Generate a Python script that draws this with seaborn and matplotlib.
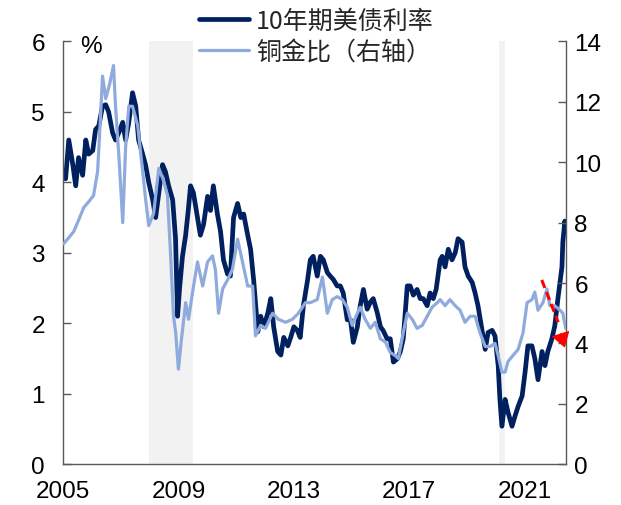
import matplotlib
matplotlib.use("Agg")
import matplotlib.pyplot as plt
import seaborn as sns
import pandas as pd

# 10-year US Treasury yield (%), decimal-year sampling
yield_years = [2005.00, 2005.09, 2005.20, 2005.34, 2005.44, 2005.54, 2005.68, 2005.79, 2005.89, 2006.03,
               2006.13, 2006.24, 2006.37, 2006.48, 2006.58, 2006.72, 2006.82, 2006.93, 2007.07, 2007.17,
               2007.28, 2007.41, 2007.52, 2007.62, 2007.76, 2007.86, 2007.97, 2008.11, 2008.21, 2008.32,
               2008.45, 2008.55, 2008.66, 2008.80, 2008.90, 2008.97, 2009.04, 2009.14, 2009.25, 2009.34,
               2009.42, 2009.52, 2009.66, 2009.76, 2009.87, 2010.01, 2010.11, 2010.21, 2010.35, 2010.46,
               2010.56, 2010.70, 2010.80, 2010.91, 2011.05, 2011.16, 2011.26, 2011.40, 2011.50, 2011.61,
               2011.75, 2011.85, 2011.96, 2012.10, 2012.20, 2012.30, 2012.44, 2012.55, 2012.65, 2012.79,
               2012.89, 2013.00, 2013.12, 2013.22, 2013.33, 2013.47, 2013.57, 2013.67, 2013.81, 2013.92,
               2014.02, 2014.16, 2014.26, 2014.37, 2014.50, 2014.61, 2014.71, 2014.85, 2014.96, 2015.06,
               2015.20, 2015.30, 2015.41, 2015.54, 2015.65, 2015.75, 2015.89, 2016.00, 2016.09, 2016.23,
               2016.34, 2016.45, 2016.59, 2016.69, 2016.79, 2016.93, 2017.03, 2017.14, 2017.27, 2017.38,
               2017.48, 2017.62, 2017.72, 2017.83, 2017.93, 2018.07, 2018.14, 2018.24, 2018.35, 2018.48,
               2018.59, 2018.69, 2018.83, 2018.93, 2019.04, 2019.18, 2019.28, 2019.38, 2019.52, 2019.63,
               2019.73, 2019.87, 2019.97, 2020.08, 2020.14, 2020.21, 2020.32, 2020.42, 2020.56, 2020.66,
               2020.77, 2020.91, 2021.01, 2021.11, 2021.25, 2021.35, 2021.46, 2021.60, 2021.70, 2021.80,
               2021.94, 2022.04, 2022.15, 2022.22, 2022.29, 2022.32, 2022.39, 2022.42]
yield_values = [4.15, 4.05, 4.60, 4.25, 3.95, 4.35, 4.10, 4.60, 4.40, 4.45,
                4.75, 4.80, 5.08, 5.10, 5.00, 4.70, 4.60, 4.70, 4.85, 4.60,
                4.85, 5.27, 5.08, 4.60, 4.40, 4.25, 4.00, 3.75, 3.50, 3.85,
                4.25, 4.15, 3.95, 3.75, 3.20, 2.10, 2.50, 2.95, 3.25, 3.60,
                3.95, 3.85, 3.50, 3.25, 3.40, 3.80, 3.60, 3.95, 3.55, 3.30,
                2.90, 2.70, 2.67, 3.50, 3.70, 3.50, 3.55, 3.25, 3.05, 2.60,
                1.88, 2.10, 1.95, 2.15, 2.35, 1.95, 1.60, 1.55, 1.80, 1.68,
                1.80, 1.95, 1.90, 1.80, 2.25, 2.60, 2.90, 2.95, 2.67, 2.95,
                2.90, 2.72, 2.67, 2.62, 2.53, 2.53, 2.43, 2.05, 2.05, 1.73,
                1.95, 2.25, 2.48, 2.20, 2.30, 2.35, 2.15, 1.95, 1.90, 1.78,
                1.78, 1.45, 1.50, 1.60, 1.78, 2.53, 2.53, 2.40, 2.48, 2.35,
                2.35, 2.25, 2.43, 2.35, 2.48, 2.90, 2.95, 2.80, 3.05, 2.90,
                3.00, 3.20, 3.15, 2.80, 2.67, 2.58, 2.43, 2.25, 1.90, 1.63,
                1.87, 1.90, 1.82, 1.40, 0.92, 0.54, 0.92, 0.74, 0.54, 0.68,
                0.82, 0.97, 1.30, 1.68, 1.68, 1.50, 1.20, 1.60, 1.40, 1.60,
                1.78, 1.96, 2.35, 2.58, 2.80, 3.15, 3.45, 3.30]

# Copper/gold ratio (right axis)
ratio_years = [2005.02, 2005.20, 2005.37, 2005.55, 2005.72, 2005.90, 2006.06, 2006.20, 2006.30, 2006.37,
               2006.48, 2006.62, 2006.75, 2006.82, 2006.95, 2007.07, 2007.17, 2007.28, 2007.41, 2007.59,
               2007.76, 2007.86, 2007.97, 2008.14, 2008.32, 2008.48, 2008.62, 2008.73, 2008.83, 2008.90,
               2009.00, 2009.10, 2009.25, 2009.35, 2009.49, 2009.66, 2009.84, 2010.01, 2010.18, 2010.28,
               2010.39, 2010.53, 2010.70, 2010.87, 2011.05, 2011.22, 2011.40, 2011.57, 2011.67, 2011.85,
               2012.02, 2012.26, 2012.46, 2012.71, 2012.95, 2013.16, 2013.40, 2013.57, 2013.81, 2013.99,
               2014.16, 2014.33, 2014.50, 2014.68, 2014.85, 2015.02, 2015.20, 2015.30, 2015.47, 2015.65,
               2015.82, 2016.00, 2016.17, 2016.34, 2016.51, 2016.62, 2016.79, 2016.93, 2017.10, 2017.27,
               2017.45, 2017.62, 2017.79, 2017.97, 2018.07, 2018.24, 2018.41, 2018.59, 2018.76, 2018.93,
               2019.11, 2019.28, 2019.45, 2019.63, 2019.80, 2019.97, 2020.08, 2020.21, 2020.32, 2020.42,
               2020.59, 2020.77, 2020.94, 2021.08, 2021.25, 2021.35, 2021.46, 2021.63, 2021.77, 2021.87,
               2022.04, 2022.22, 2022.32, 2022.42]
ratio_values = [7.30, 7.50, 7.70, 8.10, 8.50, 8.70, 8.90, 9.70, 11.50, 12.85,
                12.10, 12.60, 13.20, 11.85, 10.00, 8.00, 10.50, 11.85, 11.85, 11.20,
                9.70, 8.80, 7.90, 8.30, 9.80, 9.40, 8.90, 6.90, 4.90, 4.40,
                3.15, 4.10, 5.35, 4.80, 5.70, 6.70, 5.90, 6.70, 6.90, 6.45,
                5.00, 5.80, 6.10, 6.45, 7.45, 6.70, 5.90, 5.90, 4.25, 4.60,
                4.50, 5.00, 4.80, 4.70, 4.80, 5.00, 5.35, 5.35, 5.45, 6.20,
                5.00, 5.45, 5.55, 5.45, 5.20, 4.60, 5.00, 5.20, 4.80, 4.50,
                4.70, 4.15, 4.05, 3.70, 3.60, 3.50, 4.35, 5.00, 4.80, 4.50,
                4.60, 4.90, 5.20, 5.35, 5.45, 5.25, 5.45, 5.25, 5.10, 4.70,
                4.90, 4.90, 4.35, 3.90, 3.90, 4.00, 3.60, 3.05, 3.05, 3.40,
                3.60, 3.80, 4.35, 5.35, 5.45, 5.70, 5.10, 5.35, 5.80, 5.25,
                5.25, 5.10, 5.00, 4.50]

# Recession periods shaded in grey
recessions = [(2007.99, 2009.49), (2020.12, 2020.30)]

x_ticks = [2005, 2009, 2013, 2017, 2021]
left_ticks = [0, 1, 2, 3, 4, 5, 6]
right_ticks = [0, 2, 4, 6, 8, 10, 12, 14]

label_yield = "10年期美债利率"
label_ratio = "铜金比（右轴）"

DARK = "#002060"
LIGHT = "#8FAADC"
SHADE = "#F2F2F2"
AXIS = "#595959"

sns.set_theme(style="white")
plt.rcParams["font.family"] = ["Liberation Sans", "Noto Sans CJK SC", "DejaVu Sans"]

yield_df = pd.DataFrame({"year": yield_years, "value": yield_values})
ratio_df = pd.DataFrame({"year": ratio_years, "value": ratio_values})

fig = plt.figure(figsize=(6.21, 5.06), dpi=100)
ax = fig.add_axes([63 / 621, 40.7 / 506, 503 / 621, 423 / 506])

for start, end in recessions:
    ax.axvspan(start, end, color=SHADE, lw=0, zorder=0)

sns.lineplot(data=yield_df, x="year", y="value", ax=ax, color=DARK, lw=3.4,
             label=label_yield, zorder=2)
ax2 = ax.twinx()
sns.lineplot(data=ratio_df, x="year", y="value", ax=ax2, color=LIGHT, lw=2.3,
             label=label_ratio, zorder=3)

h1, l1 = ax.get_legend_handles_labels()
h2, l2 = ax2.get_legend_handles_labels()
for a in (ax, ax2):
    if a.get_legend() is not None:
        a.get_legend().remove()

ax.set_xlim(2005.0, 2022.43)
ax.set_ylim(0, 6)
ax2.set_ylim(0, 14)
ax.set_xticks(x_ticks)
ax.set_xticklabels([str(t) for t in x_ticks])
ax.set_yticks(left_ticks)
ax2.set_yticks(right_ticks)
ax.set_xlabel("")
ax.set_ylabel("")
ax2.set_ylabel("")

for a in (ax, ax2):
    a.grid(False)
    a.spines["top"].set_visible(False)
ax.spines["right"].set_visible(False)
ax2.spines["left"].set_visible(False)
ax2.spines["bottom"].set_visible(False)
for s in ("left", "bottom"):
    ax.spines[s].set_color(AXIS)
    ax.spines[s].set_linewidth(1.0)
ax2.spines["right"].set_color(AXIS)
ax2.spines["right"].set_linewidth(1.0)

ax.tick_params(axis="x", direction="in", length=6, width=1, color=AXIS,
               labelsize=17.5, pad=11, labelcolor="black")
ax.tick_params(axis="y", direction="in", length=6, width=1, color=AXIS,
               labelsize=17.5, pad=13, labelcolor="black")
ax2.tick_params(axis="y", direction="in", length=6, width=1, color=AXIS,
                labelsize=17.5, pad=6, labelcolor="black")

ax.text(0.055, 0.99, "%", transform=ax.transAxes, ha="center", va="center",
        fontsize=17.5, color="black")

# red dashed arrow marking the recent divergence
ax2.plot([2021.59, 2022.16], [6.10, 4.70], color="red", lw=2.2,
         linestyle=(0, (2.8, 1.4)), dash_capstyle="butt", zorder=4)
ax2.annotate("", xy=(2022.39, 3.86), xytext=(2022.24, 4.32),
             arrowprops=dict(arrowstyle="-|>,head_length=0.95,head_width=0.6",
                             color="red", lw=0.8, shrinkA=0, shrinkB=0,
                             mutation_scale=10),
             zorder=5)

fig.legend(h1 + h2, l1 + l2, loc="upper left", bbox_to_anchor=(196 / 621, 0.988),
           frameon=False, prop={"family": ["Noto Sans CJK SC", "DejaVu Sans"], "size": 18},
           handlelength=2.0, handletextpad=0.3, labelspacing=0.22,
           borderaxespad=0.0, borderpad=0.1)

fig.savefig("out.png", dpi=100)
